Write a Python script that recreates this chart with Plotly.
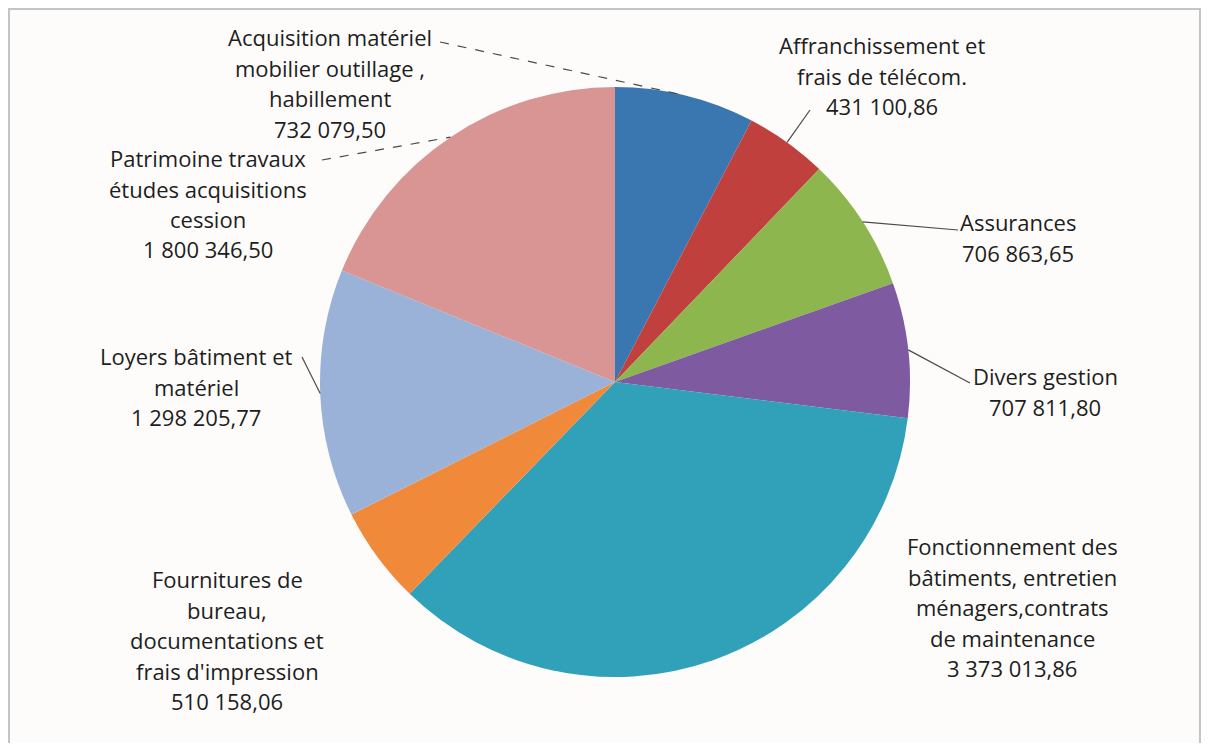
import math
import plotly.graph_objects as go

# ---- data ----
categories = [
    "Acquisition matériel mobilier outillage , habillement",
    "Affranchissement et frais de télécom.",
    "Assurances",
    "Divers gestion",
    "Fonctionnement des bâtiments, entretien ménagers,contrats de maintenance",
    "Fournitures de bureau, documentations et frais d'impression",
    "Loyers bâtiment et matériel",
    "Patrimoine travaux études acquisitions cession",
]
values = [732079.50, 431100.86, 706863.65, 707811.80, 3373013.86, 510158.06, 1298205.77, 1800346.50]
label_lines = [
    ["Acquisition matériel", "mobilier outillage ,", "habillement"],
    ["Affranchissement et", "frais de télécom."],
    ["Assurances"],
    ["Divers gestion"],
    ["Fonctionnement des", "bâtiments, entretien", "ménagers,contrats", "de maintenance"],
    ["Fournitures de", "bureau,", "documentations et", "frais d'impression"],
    ["Loyers bâtiment et", "matériel"],
    ["Patrimoine travaux", "études acquisitions", "cession"],
]

# ---- style ----
colors = ["#3A77B0", "#C0403D", "#8DB74E", "#7E5AA0", "#30A1B9", "#F08A3A", "#9AB2D8", "#D99593"]
OFF = 8                      # page body margin
W, H = 1209 - 2 * OFF, 751 - 2 * OFF
CX, CY, R = 615, 382, 295    # screen pixels
LINE_H = 30.5
FONT = dict(family="'Open Sans', Lato, sans-serif", size=22, color="#1E1E1E")
# label block: (center x, first line y) in screen pixels
label_pos = [(330, 37), (882, 45), (1018, 222), (1045, 376), (1012, 546), (227, 579), (196, 356), (208, 158)]
# leader line anchor at label side (screen pixels), None = no line
leader_anchor = [(440, 42), (810, 110), (958, 230), (970, 383), None, None, (302, 357), (322, 160)]
leader_dash = ["dash", "solid", "solid", "solid", None, None, "solid", "dash"]


def px(x):
    return (x - OFF) / W


def py(y):
    return 1 - (y - OFF) / H


def fr(v):
    return f"{v:,.2f}".replace(",", " ").replace(".", ",")


fig = go.Figure(go.Pie(
    labels=categories,
    values=values,
    sort=False,
    direction="clockwise",
    rotation=0,
    marker=dict(colors=colors, line=dict(width=0)),
    textinfo="none",
    hoverinfo="label+value",
    showlegend=False,
    domain=dict(x=[px(CX - R), px(CX + R)], y=[py(CY + R), py(CY - R)]),
))

annotations = []
shapes = []
total = sum(values)
cum = 0.0
for i, v in enumerate(values):
    mid = (cum + v / 2) / total * 2 * math.pi
    cum += v
    lines = label_lines[i] + [fr(v)]
    lx, ly = label_pos[i]
    for k, t in enumerate(lines):
        annotations.append(dict(
            x=px(lx), y=py(ly + k * LINE_H), xref="paper", yref="paper",
            text=t, showarrow=False, xanchor="center", yanchor="middle", font=FONT,
        ))
    if leader_anchor[i] is not None:
        ex = CX + R * math.sin(mid)
        ey = CY - R * math.cos(mid)
        ax, ay = leader_anchor[i]
        shapes.append(dict(
            type="line", xref="paper", yref="paper",
            x0=px(ax), y0=py(ay), x1=px(ex), y1=py(ey),
            line=dict(color="#4a4a4a", width=1.2, dash=leader_dash[i]),
        ))

# outer frame
shapes.append(dict(type="rect", xref="paper", yref="paper",
                   x0=px(9), y0=py(745), x1=px(1200), y1=py(9),
                   line=dict(color="#C4C4C4", width=2), layer="below"))

fig.update_layout(
    width=W, height=H,
    margin=dict(l=0, r=0, t=0, b=0),
    paper_bgcolor="#FDFCFA",
    plot_bgcolor="#FDFCFA",
    annotations=annotations,
    shapes=shapes,
)

fig.write_html("out.html")
